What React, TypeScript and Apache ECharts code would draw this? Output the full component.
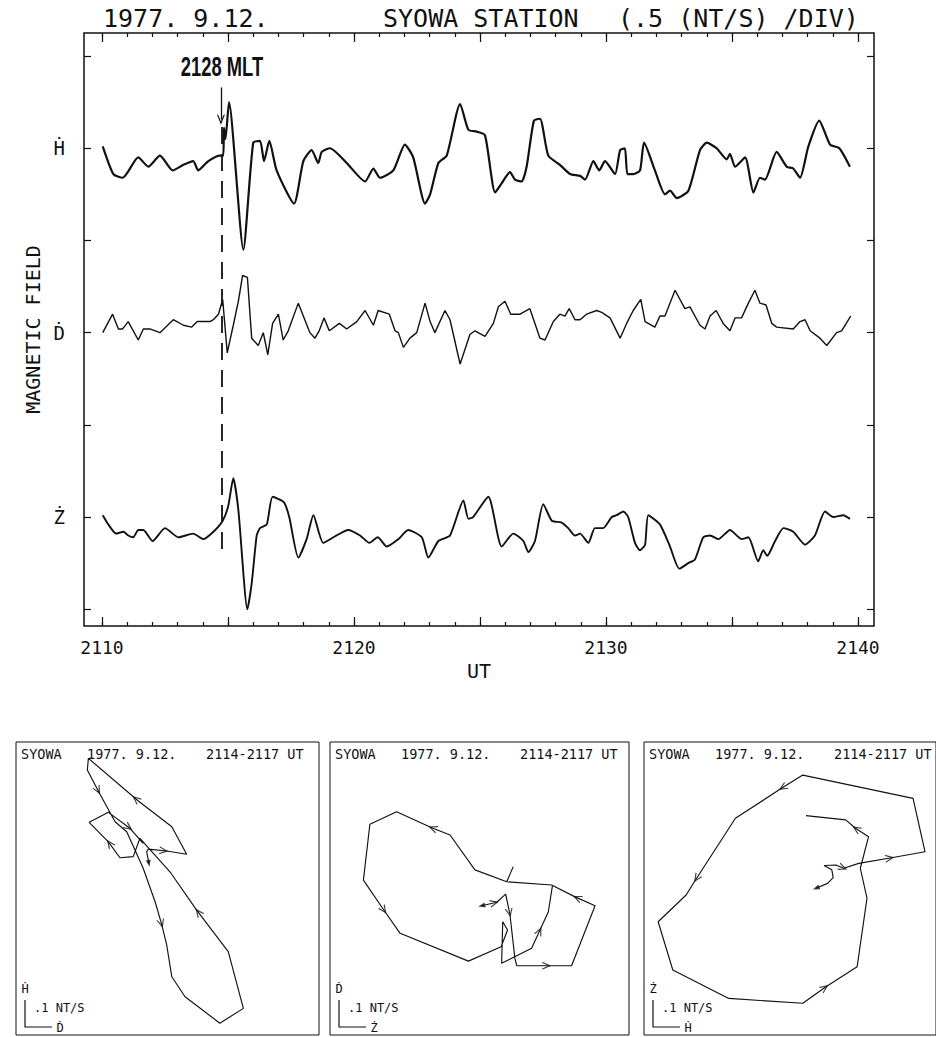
import React, { useEffect, useRef } from "react";
import * as echarts from "echarts";

const MONO = "'DejaVu Sans Mono', 'Liberation Mono', monospace";
const INK = "#111";

// ---------- texts ----------
const TITLE_DATE = "1977. 9.12.";
const TITLE_STATION = "SYOWA STATION";
const TITLE_SCALE = "(.5 (NT/S) /DIV)";
const ONSET_LABEL = "2128 MLT";
const X_NAME = "UT";
const Y_NAME = "MAGNETIC FIELD";
const PANEL_TITLE = ["SYOWA", "1977. 9.12.", "2114-2117 UT"];
const SCALE_TEXT = ".1 NT/S";

// ---------- axes ----------
const X_LABELS = [2110, 2120, 2130, 2140];
const FIVE_MIN_TICKS = [2110, 2115, 2120, 2125, 2130, 2135, 2140];
const DIV_TICKS = [-0.5, 0, 0.5, 1, 1.5, 2, 2.5]; // 0.5 nT/s per division
const CHANNEL_LABELS = ["Ż", "Ḋ", "Ḣ"];
const CHANNEL_BASES = [0, 1, 2]; // baseline of Ż, Ḋ, Ḣ traces (nT/s)
const ONSET_UT = 2114.75;

// ---------- time series [UT minute, nT/s] ----------
const H_DOT = [
  [2110.03, 0.01], [2110.45, -0.14], [2110.82, -0.16], [2111.44, -0.05], [2111.84, -0.1],
  [2112.3, -0.04], [2112.81, -0.12], [2113.23, -0.09], [2113.62, -0.07], [2113.82, -0.12],
  [2114.22, -0.07], [2114.68, -0.04], [2114.81, -0.04], [2114.84, 0.11], [2114.9, 0.05],
  [2115.04, 0.25], [2115.61, -0.55], [2116.0, 0.03], [2116.27, 0.04], [2116.43, -0.07],
  [2116.64, 0.04], [2116.93, -0.12], [2117.62, -0.3], [2117.99, -0.07], [2118.32, -0.01],
  [2118.58, -0.08], [2118.72, -0.02], [2119.05, 0.0], [2119.71, -0.08], [2120.44, -0.18],
  [2120.77, -0.11], [2121.03, -0.16], [2121.56, -0.12], [2122.02, 0.02], [2122.35, -0.05],
  [2122.82, -0.3], [2123.02, -0.25], [2123.35, -0.08], [2123.68, -0.04], [2124.21, 0.24],
  [2124.54, 0.1], [2124.87, 0.09], [2125.2, 0.07], [2125.6, -0.24], [2125.86, -0.19],
  [2126.19, -0.13], [2126.39, -0.17], [2126.65, -0.18], [2126.85, -0.1], [2127.14, 0.15],
  [2127.38, 0.16], [2127.71, -0.04], [2128.17, -0.09], [2128.57, -0.14], [2128.97, -0.15],
  [2129.17, -0.17], [2129.5, -0.07], [2129.73, -0.12], [2129.96, -0.07], [2130.36, -0.14],
  [2130.56, -0.01], [2130.75, 0.0], [2130.85, -0.14], [2131.08, -0.14], [2131.35, -0.12],
  [2131.51, 0.03], [2131.94, -0.12], [2132.34, -0.25], [2132.54, -0.23], [2132.81, -0.27],
  [2133.27, -0.23], [2133.73, -0.01], [2134.0, 0.03], [2134.39, 0.0], [2134.79, -0.06],
  [2134.92, -0.03], [2135.12, -0.1], [2135.52, -0.05], [2135.85, -0.24], [2136.11, -0.16],
  [2136.31, -0.17], [2136.77, -0.02], [2137.17, -0.1], [2137.43, -0.11], [2137.7, -0.16],
  [2138.03, 0.01], [2138.46, 0.15], [2138.89, 0.02], [2139.26, 0.0], [2139.68, -0.1],
];

const D_DOT = [
  [2110.03, 0.0], [2110.42, 0.1], [2110.65, 0.02], [2110.82, 0.02], [2111.04, 0.06],
  [2111.44, -0.04], [2111.64, 0.02], [2111.9, 0.02], [2112.3, 0.0], [2112.83, 0.07],
  [2113.23, 0.04], [2113.56, 0.03], [2113.78, 0.06], [2114.29, 0.06], [2114.42, 0.07],
  [2114.62, 0.1], [2114.79, 0.18], [2114.97, -0.11], [2115.21, 0.04], [2115.41, 0.17],
  [2115.58, 0.31], [2115.77, 0.3], [2115.94, -0.03], [2116.2, -0.07], [2116.4, 0.0],
  [2116.58, -0.12], [2116.77, 0.05], [2117.0, 0.1], [2117.19, -0.04], [2117.39, 0.01],
  [2117.79, 0.16], [2118.25, 0.0], [2118.45, -0.03], [2118.62, 0.01], [2118.81, 0.08],
  [2119.02, 0.01], [2119.42, 0.05], [2119.71, 0.02], [2120.11, 0.06], [2120.44, 0.12],
  [2120.77, 0.04], [2120.96, 0.12], [2121.4, 0.1], [2121.63, 0.01], [2121.76, 0.0],
  [2121.96, -0.08], [2122.22, -0.03], [2122.49, 0.0], [2122.82, 0.16], [2123.02, 0.06],
  [2123.21, 0.0], [2123.61, 0.12], [2123.81, 0.07], [2124.21, -0.17], [2124.6, -0.01],
  [2124.8, 0.01], [2125.2, -0.02], [2125.53, 0.05], [2125.73, 0.14], [2125.99, 0.17],
  [2126.22, 0.1], [2126.59, 0.1], [2126.98, 0.13], [2127.38, -0.03], [2127.58, -0.04],
  [2127.91, 0.06], [2128.17, 0.1], [2128.37, 0.09], [2128.54, 0.13], [2128.77, 0.07],
  [2128.97, 0.07], [2129.23, 0.1], [2129.63, 0.12], [2129.83, 0.11], [2130.16, 0.08],
  [2130.56, -0.03], [2130.82, 0.05], [2131.08, 0.12], [2131.38, 0.18], [2131.55, 0.06],
  [2131.94, 0.03], [2132.14, 0.09], [2132.34, 0.09], [2132.74, 0.23], [2133.13, 0.13],
  [2133.33, 0.14], [2133.73, 0.04], [2133.93, 0.02], [2134.13, 0.09], [2134.37, 0.12],
  [2134.65, 0.05], [2134.92, 0.01], [2135.12, 0.08], [2135.38, 0.08], [2135.65, 0.16],
  [2135.91, 0.23], [2136.11, 0.16], [2136.35, 0.15], [2136.58, 0.05], [2136.77, 0.03],
  [2137.43, 0.02], [2137.7, 0.06], [2137.9, 0.07], [2138.1, 0.01], [2138.49, -0.03],
  [2138.76, -0.07], [2139.15, 0.0], [2139.35, 0.01], [2139.71, 0.09],
];

const Z_DOT = [
  [2110.03, 0.01], [2110.25, -0.04], [2110.56, -0.09], [2110.85, -0.08], [2111.04, -0.1],
  [2111.24, -0.11], [2111.44, -0.07], [2111.64, -0.07], [2112.01, -0.13], [2112.5, -0.06],
  [2113.03, -0.11], [2113.62, -0.09], [2114.02, -0.12], [2114.42, -0.08], [2114.79, -0.02],
  [2115.01, 0.06], [2115.21, 0.21], [2115.41, 0.04], [2115.77, -0.5], [2115.94, -0.36],
  [2116.14, -0.1], [2116.27, -0.06], [2116.54, -0.04], [2116.77, 0.11], [2117.22, 0.08],
  [2117.43, 0.0], [2117.79, -0.22], [2118.12, -0.12], [2118.39, 0.01], [2118.78, -0.14],
  [2119.31, -0.1], [2119.77, -0.07], [2120.24, -0.1], [2120.61, -0.14], [2120.94, -0.11],
  [2121.3, -0.16], [2121.76, -0.12], [2122.15, -0.07], [2122.69, -0.11], [2122.95, -0.22],
  [2123.35, -0.13], [2123.81, -0.1], [2124.34, 0.09], [2124.54, -0.01], [2124.73, 0.0],
  [2125.33, 0.11], [2125.86, -0.16], [2126.32, -0.09], [2126.72, -0.13], [2126.92, -0.19],
  [2127.18, -0.13], [2127.51, 0.07], [2127.85, -0.02], [2128.24, -0.03], [2128.5, -0.06],
  [2128.77, -0.1], [2128.97, -0.09], [2129.3, -0.14], [2129.56, -0.06], [2129.89, -0.06],
  [2130.23, 0.0], [2130.42, 0.01], [2130.69, 0.03], [2130.88, 0.0], [2131.15, -0.14],
  [2131.35, -0.18], [2131.55, -0.15], [2131.68, 0.01], [2132.14, -0.04], [2132.54, -0.16],
  [2132.91, -0.28], [2133.27, -0.25], [2133.53, -0.23], [2133.86, -0.11], [2134.13, -0.1],
  [2134.46, -0.12], [2134.92, -0.07], [2135.38, -0.12], [2135.65, -0.11], [2136.04, -0.24],
  [2136.24, -0.18], [2136.4, -0.21], [2136.71, -0.13], [2137.04, -0.06], [2137.43, -0.08],
  [2137.9, -0.15], [2138.29, -0.1], [2138.69, 0.03], [2139.02, 0.0], [2139.42, 0.01],
  [2139.68, -0.01],
];

// ---------- hodograms 2114-2117 UT [x, y] in nT/s ----------
const P1_PATH = [ // x = Ḋ, y = Ḣ
  [-0.069, 0.093], [-0.077, 0.136], [-0.071, 0.146], [-0.003, 0.139], [0.071, 0.127],
  [0.016, 0.229], [-0.108, 0.324], [-0.293, 0.482], [-0.297, 0.439], [-0.25, 0.349],
  [-0.194, 0.247], [-0.151, 0.21], [-0.09, 0.075], [-0.046, -0.049], [-0.021, -0.135],
  [-0.003, -0.209], [0.016, -0.327], [0.065, -0.401], [0.194, -0.499], [0.281, -0.444],
  [0.225, -0.234], [0.108, -0.08], [0.009, 0.062], [-0.102, 0.186], [-0.127, 0.118],
  [-0.176, 0.114], [-0.219, 0.173], [-0.29, 0.245], [-0.219, 0.282], [-0.139, 0.223],
  [-0.09, 0.167],
];
const P1_ARROWS = [[2, 0.85], [6, 0.05], [8, 0.85], [13, 0.95], [20, 0.95], [25, 0.9], [28, 0.95]];

const P2_PATH = [ // x = Ż, y = Ḋ
  [0.008, -0.064], [0.064, -0.051], [0.097, -0.021], [0.113, -0.098], [0.131, -0.259],
  [0.138, -0.286], [0.255, -0.286], [0.341, -0.286], [0.428, -0.064], [0.354, -0.031],
  [0.267, 0.013], [0.101, 0.025], [0.125, 0.081], [0.101, 0.025], [-0.017, 0.069],
  [-0.109, 0.198], [-0.177, 0.225], [-0.307, 0.284], [-0.406, 0.238], [-0.43, 0.031],
  [-0.35, -0.086], [-0.294, -0.166], [-0.041, -0.269], [0.08, -0.216], [0.104, -0.154],
  [0.086, -0.123], [0.082, -0.277], [0.193, -0.221], [0.224, -0.154], [0.255, -0.086],
  [0.27, 0.01],
];
const P2_ARROWS = [[0, 0.85], [2, 0.9], [5, 0.95], [8, 0.9], [15, 0.95], [19, 0.95], [27, 0.95]];

const P3_PATH = [ // x = Ḣ, y = Ż
  [0.098, 0.001], [0.141, 0.019], [0.162, 0.04], [0.157, 0.069], [0.128, 0.085],
  [0.172, 0.087], [0.202, 0.075], [0.258, 0.093], [0.381, 0.114], [0.507, 0.136],
  [0.462, 0.334], [0.048, 0.42], [-0.032, 0.371], [-0.205, 0.26], [-0.359, 0.025],
  [-0.39, -0.024], [-0.495, -0.123], [-0.44, -0.302], [-0.23, -0.407], [0.048, -0.425],
  [0.135, -0.364], [0.252, -0.29], [0.289, -0.036], [0.264, 0.075], [0.295, 0.192],
  [0.246, 0.223], [0.209, 0.254], [0.06, 0.27],
];
const P3_ARROWS = [[5, 0.9], [7, 0.95], [11, 0.95], [13, 0.95], [19, 0.95], [24, 0.95]];

const PANEL_AXES = [["Ḋ", "Ḣ"], ["Ż", "Ḋ"], ["Ḣ", "Ż"]]; // [x, y]

// ---------- layout ----------
const CHEVRON = "path://M0,10 L5,0 L10,10 L8.4,10 L5,3.2 L1.6,10 Z";
const PX_PER_NT = 270; // hodogram scale: 0.1 nT/s = 27 px
const PANEL_BOXES = [
  { left: 16, width: 303 },
  { left: 330, width: 299 },
  { left: 644, width: 296 },
];
const PANEL_TOP = 742;
const PANEL_H = 293;

function arrowItems(path: number[][], specs: number[][]) {
  return specs.map(([i, f]) => {
    const a = path[i];
    const b = path[i + 1];
    const dx = b[0] - a[0];
    const dy = b[1] - a[1];
    const rot = (Math.atan2(-dx, dy) * 180) / Math.PI;
    return { value: [a[0] + dx * f, a[1] + dy * f], symbolRotate: rot };
  });
}

function startItem(path: number[][]) {
  const a = path[0];
  const b = path[1];
  const dx = a[0] - b[0];
  const dy = a[1] - b[1];
  return [{ value: a, symbolRotate: (Math.atan2(-dx, dy) * 180) / Math.PI }];
}

function txt(x: number, y: number, text: string, size: number, align = "left", extra: any = {}) {
  return {
    type: "text",
    x,
    y,
    silent: true,
    ...extra,
    style: {
      text,
      fontSize: size,
      fontFamily: MONO,
      fill: INK,
      textAlign: align,
      textVerticalAlign: "middle",
      ...(extra.style || {}),
    },
  };
}

function buildOption() {
  const XMIN = 2109.286;
  const XMAX = 2140.635;
  const YMIN = -0.591;
  const YMAX = 2.625;
  const minuteTicks: number[] = [];
  for (let m = 2110; m <= 2140; m++) minuteTicks.push(m);

  const tickStyle = { color: INK, width: 1.2 };
  const mainX = (extra: any) => ({
    gridIndex: 0,
    type: "value",
    min: XMIN,
    max: XMAX,
    axisLine: { show: false, onZero: false },
    splitLine: { show: false },
    axisLabel: { show: false },
    ...extra,
  });
  const mainY = (extra: any) => ({
    gridIndex: 0,
    type: "value",
    min: YMIN,
    max: YMAX,
    axisLine: { show: false, onZero: false },
    splitLine: { show: false },
    axisLabel: { show: false },
    axisTick: { inside: true, length: 7, customValues: DIV_TICKS, lineStyle: tickStyle },
    ...extra,
  });

  const grids: any[] = [
    { left: 84, top: 33, width: 790, height: 593, show: true, borderColor: INK, borderWidth: 1.5 },
  ];
  const xAxes: any[] = [
    mainX({
      position: "bottom",
      axisTick: { inside: true, length: 4, customValues: minuteTicks, lineStyle: tickStyle },
      axisLabel: {
        show: true,
        customValues: X_LABELS,
        formatter: (v: number) => String(Math.round(v)),
        fontFamily: MONO,
        fontSize: 18,
        color: INK,
        margin: 12,
      },
      name: X_NAME,
      nameLocation: "middle",
      nameGap: 33,
      nameTextStyle: { fontFamily: MONO, fontSize: 20, color: INK },
    }),
    mainX({ position: "bottom", axisTick: { inside: true, length: 9, customValues: FIVE_MIN_TICKS, lineStyle: tickStyle } }),
    mainX({ position: "top", axisTick: { inside: true, length: 4, customValues: minuteTicks, lineStyle: tickStyle } }),
    mainX({ position: "top", axisTick: { inside: true, length: 9, customValues: FIVE_MIN_TICKS, lineStyle: tickStyle } }),
  ];
  const yAxes: any[] = [
    mainY({
      position: "left",
      axisLabel: {
        show: true,
        customValues: CHANNEL_BASES,
        formatter: (v: number) => CHANNEL_LABELS[Math.round(v)],
        fontFamily: MONO,
        fontSize: 19,
        color: INK,
        margin: 19,
      },
      name: Y_NAME,
      nameLocation: "middle",
      nameRotate: 90,
      nameGap: 40,
      nameTextStyle: { fontFamily: MONO, fontSize: 20, color: INK },
    }),
    mainY({ position: "right" }),
  ];

  const series: any[] = [
    {
      type: "line",
      xAxisIndex: 0,
      yAxisIndex: 0,
      data: H_DOT.map(([t, v]) => [t, v + CHANNEL_BASES[2]]),
      symbol: "none",
      smooth: 0.2,
      lineStyle: { color: INK, width: 2.2 },
      markLine: {
        silent: true,
        animation: false,
        symbol: ["none", "none"],
        label: { show: false },
        lineStyle: { color: INK, width: 1.6, type: "solid" },
        data: [
          [
            { coord: [ONSET_UT, 2.115], lineStyle: { color: INK, width: 1.8, type: [17, 10] } },
            { coord: [ONSET_UT, -0.19] },
          ],
          [
            { coord: [ONSET_UT - 0.03, 2.33], symbol: "none", lineStyle: { color: INK, width: 1.3, type: "solid" } },
            { coord: [ONSET_UT - 0.03, 2.155], symbol: CHEVRON, symbolSize: [8, 10] },
          ],
        ],
      },
    },
    {
      type: "line",
      xAxisIndex: 0,
      yAxisIndex: 0,
      data: D_DOT.map(([t, v]) => [t, v + CHANNEL_BASES[1]]),
      symbol: "none",
      lineStyle: { color: INK, width: 1.4 },
    },
    {
      type: "line",
      xAxisIndex: 0,
      yAxisIndex: 0,
      data: Z_DOT.map(([t, v]) => [t, v + CHANNEL_BASES[0]]),
      symbol: "none",
      smooth: 0.2,
      lineStyle: { color: INK, width: 1.9 },
    },
  ];

  const paths = [P1_PATH, P2_PATH, P3_PATH];
  const arrows = [P1_ARROWS, P2_ARROWS, P3_ARROWS];
  const graphics: any[] = [
    txt(103, 18, TITLE_DATE, 25),
    txt(383, 18, TITLE_STATION, 25),
    txt(618, 18, TITLE_SCALE, 25),
    {
      type: "text",
      x: 222,
      y: 67,
      scaleX: 0.68,
      silent: true,
      style: {
        text: ONSET_LABEL,
        fontSize: 27,
        fontWeight: "bold",
        fontFamily: "'Liberation Sans Narrow', 'Liberation Sans', Arial, sans-serif",
        fill: INK,
        textAlign: "center",
        textVerticalAlign: "middle",
      },
    },
  ];

  PANEL_BOXES.forEach((box, k) => {
    const gi = k + 1;
    const halfW = box.width / 2 / PX_PER_NT;
    const halfH = PANEL_H / 2 / PX_PER_NT;
    grids.push({
      left: box.left,
      top: PANEL_TOP,
      width: box.width,
      height: PANEL_H,
      show: true,
      borderColor: INK,
      borderWidth: 1,
    });
    xAxes.push({ gridIndex: gi, type: "value", min: -halfW, max: halfW, show: false });
    yAxes.push({ gridIndex: gi, type: "value", min: -halfH, max: halfH, show: false });
    const xi = xAxes.length - 1;
    const yi = yAxes.length - 1;
    series.push({
      type: "line",
      xAxisIndex: xi,
      yAxisIndex: yi,
      data: paths[k],
      symbol: "none",
      lineStyle: { color: INK, width: 1.15 },
    });
    series.push({
      type: "scatter",
      xAxisIndex: xi,
      yAxisIndex: yi,
      data: arrowItems(paths[k], arrows[k]),
      symbol: CHEVRON,
      symbolSize: [8, 9],
      itemStyle: { color: INK },
      silent: true,
    });
    series.push({
      type: "scatter",
      xAxisIndex: xi,
      yAxisIndex: yi,
      data: startItem(paths[k]),
      symbol: "triangle",
      symbolSize: [5, 7],
      itemStyle: { color: INK },
      silent: true,
    });

    const L = box.left;
    graphics.push(txt(L + 5, 754, PANEL_TITLE[0], 13.5));
    graphics.push(txt(L + 71, 754, PANEL_TITLE[1], 13.5));
    graphics.push(txt(L + 190, 754, PANEL_TITLE[2], 13.5));
    const bar = 0.1 * PX_PER_NT;
    const ox = L + 9;
    const oy = 1027;
    graphics.push({
      type: "polyline",
      silent: true,
      shape: { points: [[ox, oy - bar], [ox, oy], [ox + bar, oy]] },
      style: { stroke: INK, lineWidth: 1.2, fill: null },
    });
    graphics.push(txt(ox, oy - bar - 11, PANEL_AXES[k][1], 12, "center"));
    graphics.push(txt(ox + 9, oy - bar + 8, SCALE_TEXT, 12));
    graphics.push(txt(ox + bar + 8, oy + 1, PANEL_AXES[k][0], 12, "center"));
  });

  return {
    animation: false,
    backgroundColor: "#fff",
    grid: grids,
    xAxis: xAxes,
    yAxis: yAxes,
    series,
    graphic: { elements: graphics },
  };
}

export default function App() {
  const ref = useRef<HTMLDivElement>(null);
  useEffect(() => {
    if (!ref.current) return;
    const chart = echarts.init(ref.current, undefined, { renderer: "svg" });
    chart.setOption(buildOption() as any);
    return () => chart.dispose();
  }, []);
  return (
    <div
      ref={ref}
      style={{ position: "fixed", left: 0, top: 0, width: 936, height: 1037, background: "#fff" }}
    />
  );
}
